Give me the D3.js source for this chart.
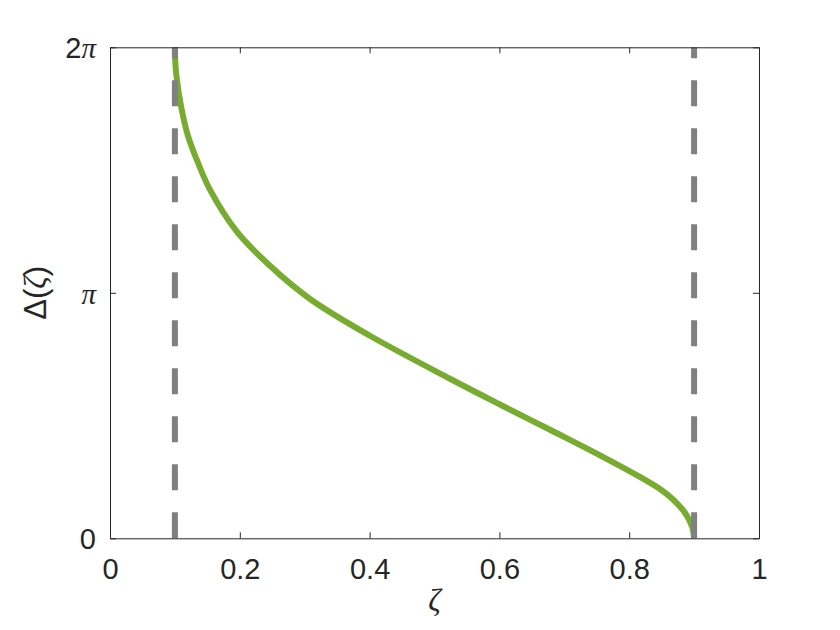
<!DOCTYPE html>
<html>
<head>
<meta charset="utf-8">
<script src="https://cdn.jsdelivr.net/npm/d3@7"></script>
<style>
  body { margin: 0; background: #fff; }
  svg { display: block; }
  .axis path, .axis line { stroke: #262626; stroke-width: 1; }
  .axis text { font-family: "Liberation Sans", Arial, sans-serif; font-size: 29px; fill: #262626; }
</style>
</head>
<body>
<div id="vis"></div>
<script>
var width = 840,
    height = 630;

// curve: zeta and Delta (in units of pi)
var zeta = [0.1, 0.1004, 0.1025, 0.1095, 0.12, 0.134, 0.154, 0.1952, 0.2465, 0.3082,
            0.4006, 0.5239, 0.6009, 0.678, 0.755, 0.8166, 0.848, 0.8655, 0.8865, 0.897, 0.9];
var deltaPi = [2.0, 1.95, 1.88, 1.76, 1.64, 1.54, 1.42, 1.25, 1.11, 0.975,
               0.825, 0.65, 0.545, 0.442, 0.338, 0.25, 0.2, 0.163, 0.102, 0.047, 0];

// dashed limits
var limits = [0.1, 0.9];

var xTicks = [0, 0.2, 0.4, 0.6, 0.8, 1];
var yTicks = [0, Math.PI, 2 * Math.PI];
var yTickLabels = [["0", ""], ["", "\u03c0"], ["2", "\u03c0"]];

var plotLeft = 110, plotRight = 759, plotTop = 47.3, plotBottom = 538.3;

var svg = d3.select("#vis").append("svg")
    .attr("width", width)
    .attr("height", height);

var x = d3.scaleLinear().domain([0, 1]).range([plotLeft, plotRight]);
var y = d3.scaleLinear().domain([0, 2 * Math.PI]).range([plotBottom, plotTop]);

var data = zeta.map(function(z, i) { return [z, deltaPi[i] * Math.PI]; });

var line = d3.line()
    .x(function(d) { return x(d[0]); })
    .y(function(d) { return y(d[1]); })
    .curve(d3.curveCatmullRom.alpha(0.5));

svg.append("path")
    .datum(data)
    .attr("d", line)
    .attr("fill", "none")
    .attr("stroke", "#77ac30")
    .attr("stroke-width", 6);

// dashed lines, pattern starting from the bottom
svg.selectAll(".limit")
    .data(limits)
    .enter()
    .append("line")
    .attr("class", "limit")
    .attr("x1", function(d) { return x(d); })
    .attr("x2", function(d) { return x(d); })
    .attr("y1", y(0))
    .attr("y2", y(2 * Math.PI))
    .attr("stroke", "#808080")
    .attr("stroke-width", 6)
    .attr("stroke-dasharray", "26,22");

//--------AXES--------//
svg.append("g")
    .attr("class", "axis")
    .attr("transform", "translate(0," + plotBottom + ")")
    .call(d3.axisBottom(x).tickValues(xTicks).tickSizeInner(-6).tickSizeOuter(0).tickPadding(20)
        .tickFormat(function(d) { return d3.format("")(d); }));

svg.append("g")
    .attr("class", "axis")
    .attr("transform", "translate(0," + plotTop + ")")
    .call(d3.axisTop(x).tickValues(xTicks).tickSizeInner(-6).tickSizeOuter(0).tickFormat(""));

var yAxis = svg.append("g")
    .attr("class", "axis")
    .attr("transform", "translate(" + plotLeft + ",0)")
    .call(d3.axisLeft(y).tickValues(yTicks).tickSizeInner(-6).tickSizeOuter(0).tickPadding(14)
        .tickFormat(""));

yAxis.selectAll(".tick text").each(function(d, i) {
    var t = d3.select(this).attr("dy", "0.36em");
    t.append("tspan").text(yTickLabels[i][0]);
    t.append("tspan")
        .style("font-family", "'Liberation Serif', 'DejaVu Serif', serif")
        .style("font-style", "italic")
        .text(yTickLabels[i][1]);
});

svg.append("g")
    .attr("class", "axis")
    .attr("transform", "translate(" + plotRight + ",0)")
    .call(d3.axisRight(y).tickValues(yTicks).tickSizeInner(-6).tickSizeOuter(0).tickFormat(""));

// axis labels
svg.append("text")
    .attr("x", (plotLeft + plotRight) / 2)
    .attr("y", 611)
    .attr("text-anchor", "middle")
    .style("font-family", "'Liberation Serif', 'DejaVu Serif', serif")
    .style("font-style", "italic")
    .style("font-size", "31px")
    .style("fill", "#262626")
    .text("\u03b6");

var ylab = svg.append("text")
    .attr("transform", "translate(46," + (plotTop + plotBottom) / 2 + ") rotate(-90)")
    .attr("text-anchor", "middle")
    .style("font-family", "'Liberation Sans', Arial, sans-serif")
    .style("font-size", "31px")
    .style("fill", "#262626");
ylab.append("tspan").text("\u0394(");
ylab.append("tspan")
    .style("font-family", "'Liberation Serif', 'DejaVu Serif', serif")
    .style("font-style", "italic")
    .text("\u03b6");
ylab.append("tspan").text(")");
</script>
</body>
</html>
